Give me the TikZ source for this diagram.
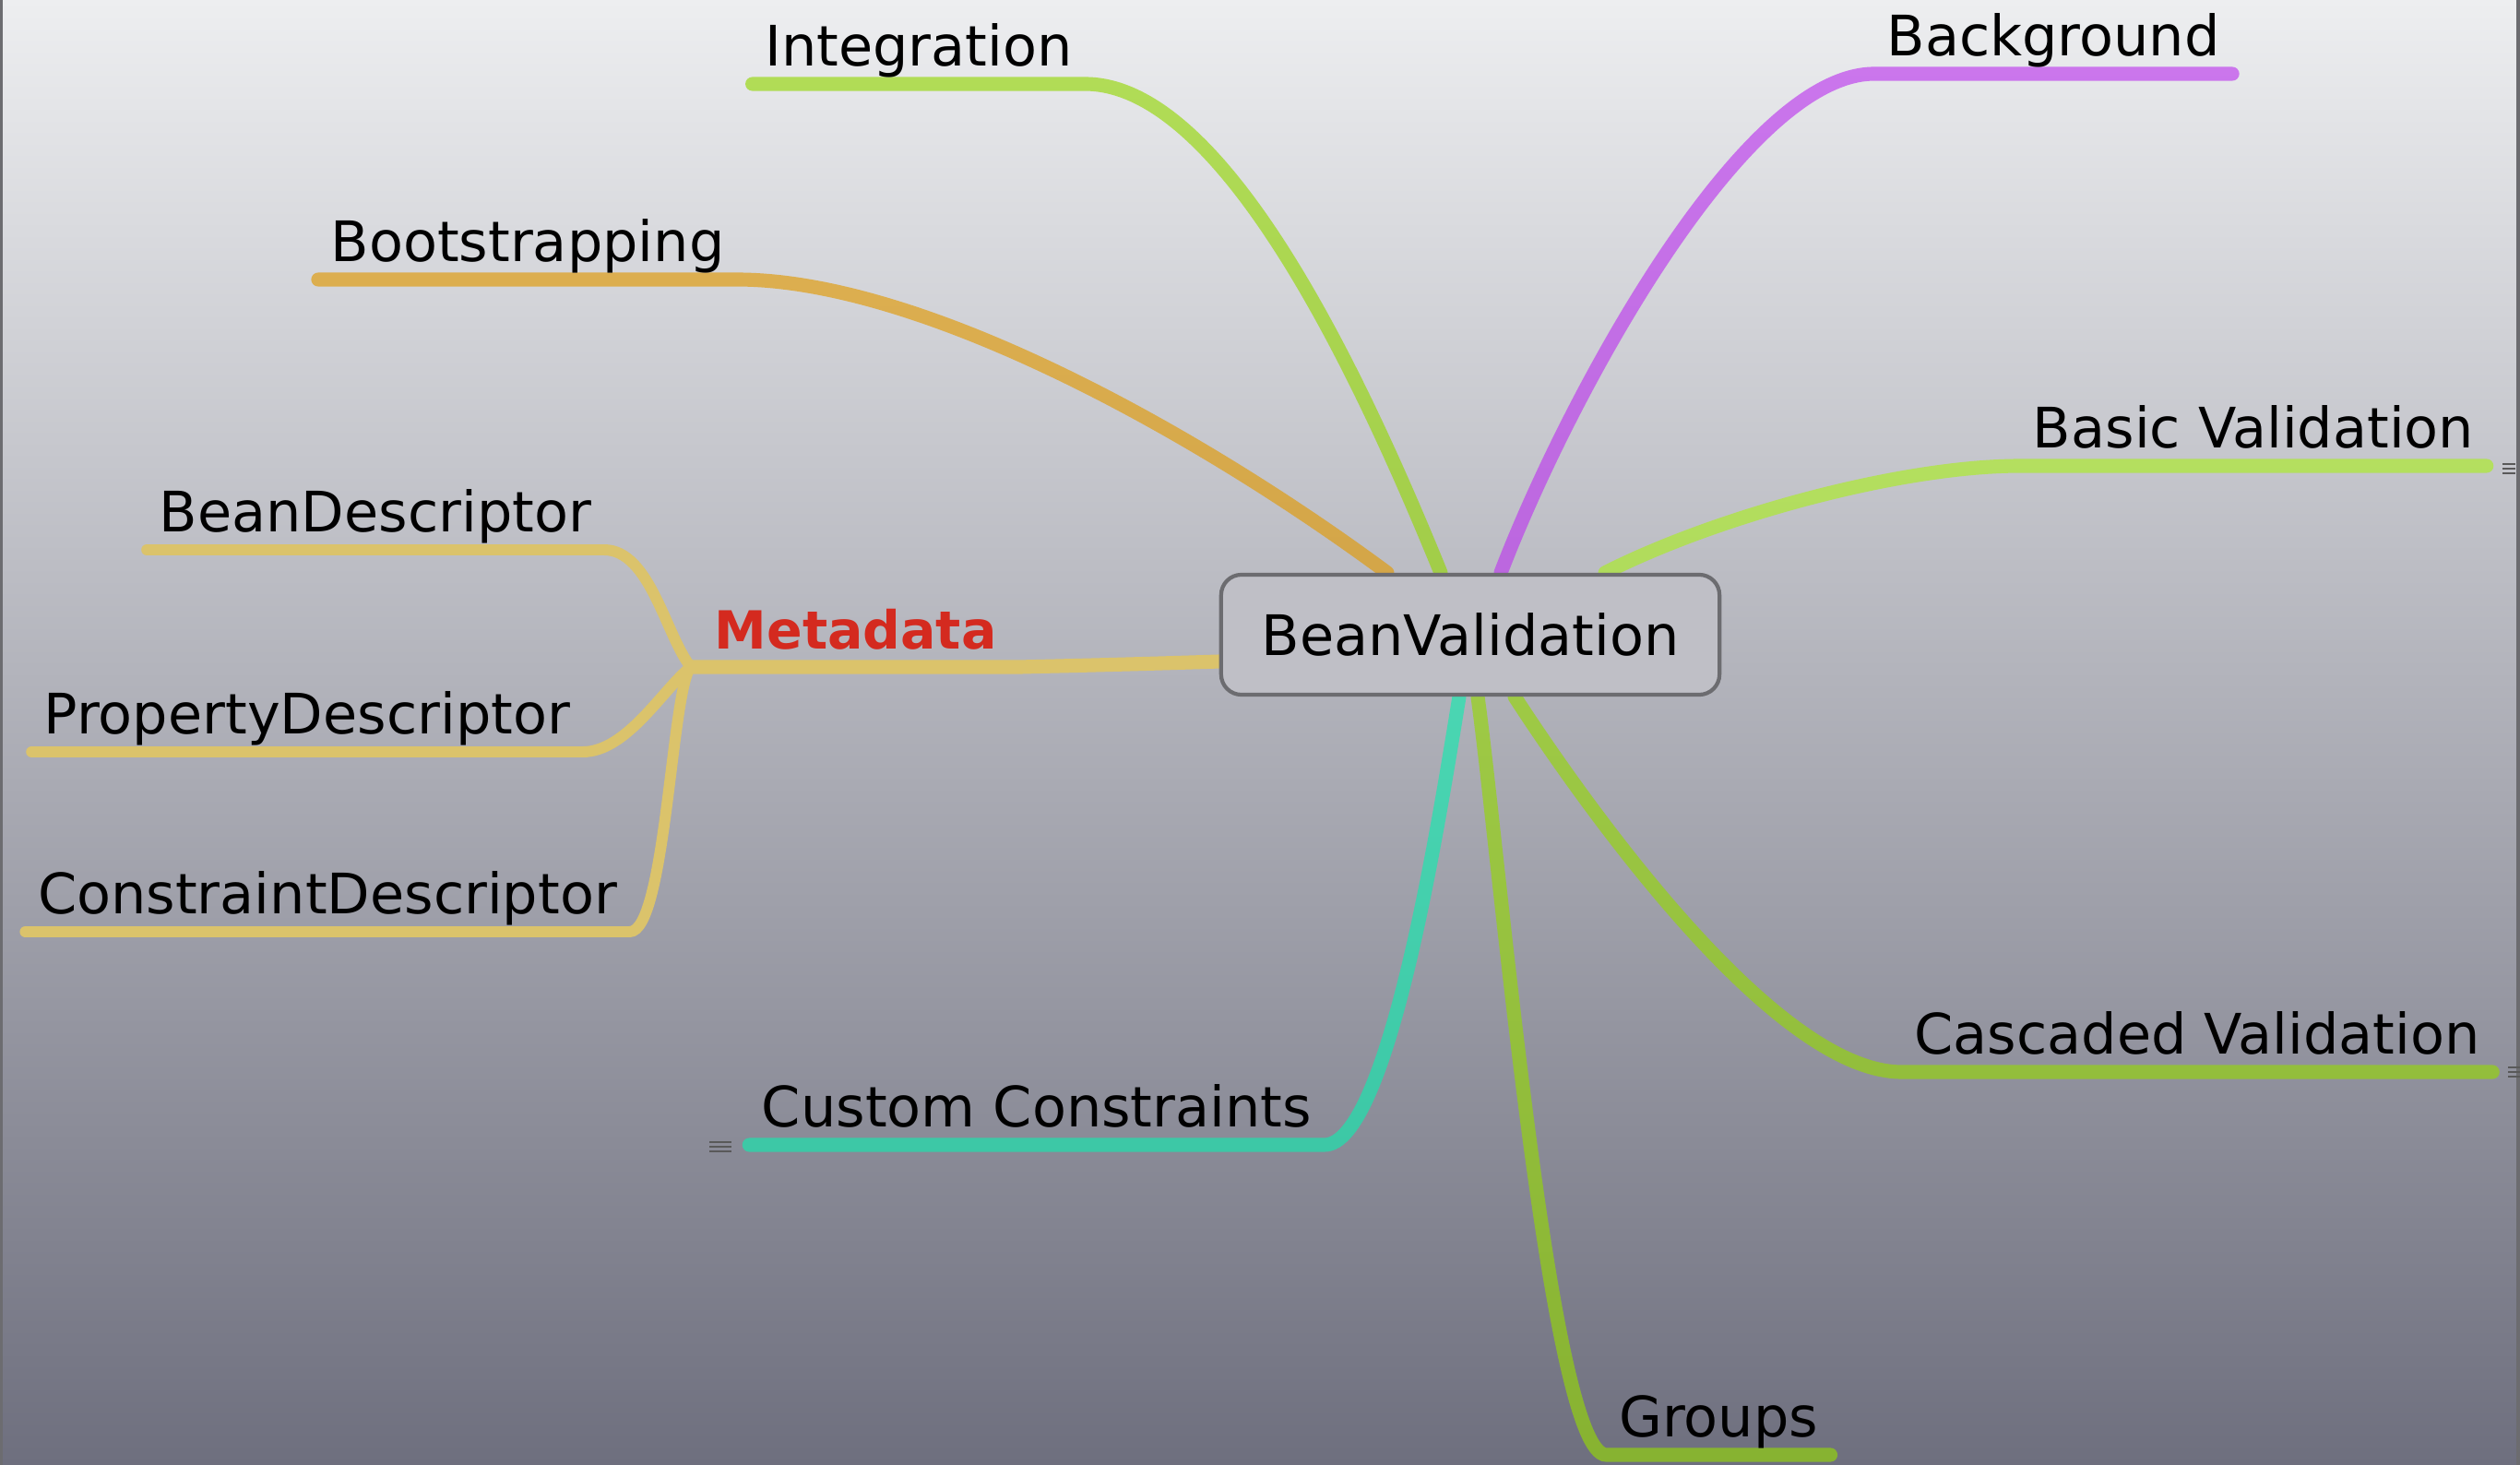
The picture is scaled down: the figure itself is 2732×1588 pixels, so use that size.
\documentclass[tikz,border=0pt]{standalone}
\usepackage{fontspec}
\setmainfont{DejaVu Sans}

\definecolor{bgtop}{RGB}{237,238,240}
\definecolor{bgbot}{RGB}{110,111,126}
\definecolor{framegray}{RGB}{108,108,112}
\definecolor{rootfill}{RGB}{191,191,198}
\definecolor{bootc}{RGB}{225,154,6}
\definecolor{limec}{RGB}{149,215,8}
\definecolor{basicc}{RGB}{171,237,37}
\definecolor{purplec}{RGB}{188,57,238}
\definecolor{tealc}{RGB}{20,234,175}
\definecolor{metac}{RGB}{219,195,107}
\definecolor{metared}{RGB}{212,42,31}

\pgfdeclarelayer{back}
\pgfdeclarelayer{lines}
\pgfsetlayers{back,lines,main}

\begin{document}
\begin{tikzpicture}[x=0.01cm, y=-0.01cm,
    topic/.style={font=\fontsize{17.2}{20}\selectfont, inner xsep=0.13cm, inner ysep=0pt, text depth=0.19cm, anchor=south},
    root/.style={draw=framegray, line width=1.2pt, rounded corners=0.22cm, fill=rootfill, minimum width=5.4cm, minimum height=1.3cm, font=\fontsize{17.2}{20}\selectfont},
    branch/.style={draw=#1, line width=4.3pt, line cap=round, draw opacity=0.65},
    twig/.style={draw=metac, line width=3.4pt, line cap=round},
    fold/.style={draw=black!65, line width=0.45pt}]

    \useasboundingbox (0,0) rectangle (2732,1588);

    \begin{pgfonlayer}{back}
    \shade[top color=bgtop, bottom color=bgbot] (0,0) rectangle (2732,1588);
    \draw[framegray, line width=1pt] (1,0) -- (1,1588);
    \draw[framegray, line width=1pt] (2730,0) -- (2730,1588);
    \end{pgfonlayer}

    \node[root] (bv) at (1594,688) {BeanValidation};

    \node[topic] (intg) at (996,91) {Integration};
    \node[topic] (bgnd) at (2226,80) {Background};
    \node[topic] (boot) at (572,303) {Bootstrapping};
    \node[topic] (basic) at (2443,505) {Basic Validation};
    \node[topic] (casc) at (2382,1162) {Cascaded Validation};
    \node[topic] (grps) at (1863,1577) {Groups};
    \node[topic] (cust) at (1124,1241) {Custom Constraints};

    \node[topic, anchor=south west, inner xsep=0.25cm, font=\fontsize{16.2}{20}\selectfont\bfseries, text=metared] (meta) at (749,723) {Metadata};
    \node[topic] (bdesc) at (407,596) {BeanDescriptor};
    \node[topic] (pdesc) at (333,815) {PropertyDescriptor};
    \node[topic] (cdesc) at (355,1010) {ConstraintDescriptor};

    \begin{pgfonlayer}{lines}
    \draw[branch=bootc] ([xshift=-0.9cm]bv.north) .. controls (1300,470) and (1000,303) .. (boot.south east) -- (boot.south west);
    \draw[branch=limec] ([xshift=-0.32cm]bv.north) .. controls (1480,420) and (1330,91) .. (intg.south east) -- (intg.south west);
    \draw[branch=purplec] ([xshift=0.33cm]bv.north) .. controls (1700,430) and (1890,80) .. (bgnd.south west) -- (bgnd.south east);
    \draw[branch=basicc] ([xshift=1.46cm]bv.north) .. controls (1860,560) and (2060,505) .. (basic.south west) -- (basic.south east);
    \draw[branch=limec] ([xshift=0.48cm]bv.south) .. controls (1710,860) and (1920,1162) .. (casc.south west) -- (casc.south east);
    \draw[branch=limec] ([xshift=0.08cm]bv.south) .. controls (1625,920) and (1680,1577) .. (grps.south west) -- (grps.south east);
    \draw[branch=tealc] ([xshift=-0.12cm]bv.south) .. controls (1560,890) and (1505,1241) .. (cust.south east) -- (cust.south west);

    % metadata and its children
    \draw[branch=metac, draw opacity=1] ([yshift=-0.29cm]bv.west) .. controls (1200,721) and (1100,723) .. (meta.south east) -- (meta.south west);
    \draw[twig] (meta.south west) .. controls (722,690) and (705,596) .. (bdesc.south east) -- (bdesc.south west);
    \draw[twig] (meta.south west) .. controls (720,745) and (680,815) .. (pdesc.south east) -- (pdesc.south west);
    \draw[twig] (meta.south west) .. controls (728,745) and (722,1010) .. (cdesc.south east) -- (cdesc.south west);
    \end{pgfonlayer}

    % folded markers
    \foreach \y in {503,508,513} \draw[fold] (2713,\y) -- (2727,\y);
    \foreach \y in {1157,1162,1167} \draw[fold] (2719,\y) -- (2732,\y);
    \foreach \y in {1238,1243,1248} \draw[fold] (769,\y) -- (793,\y);

\end{tikzpicture}
\end{document}
